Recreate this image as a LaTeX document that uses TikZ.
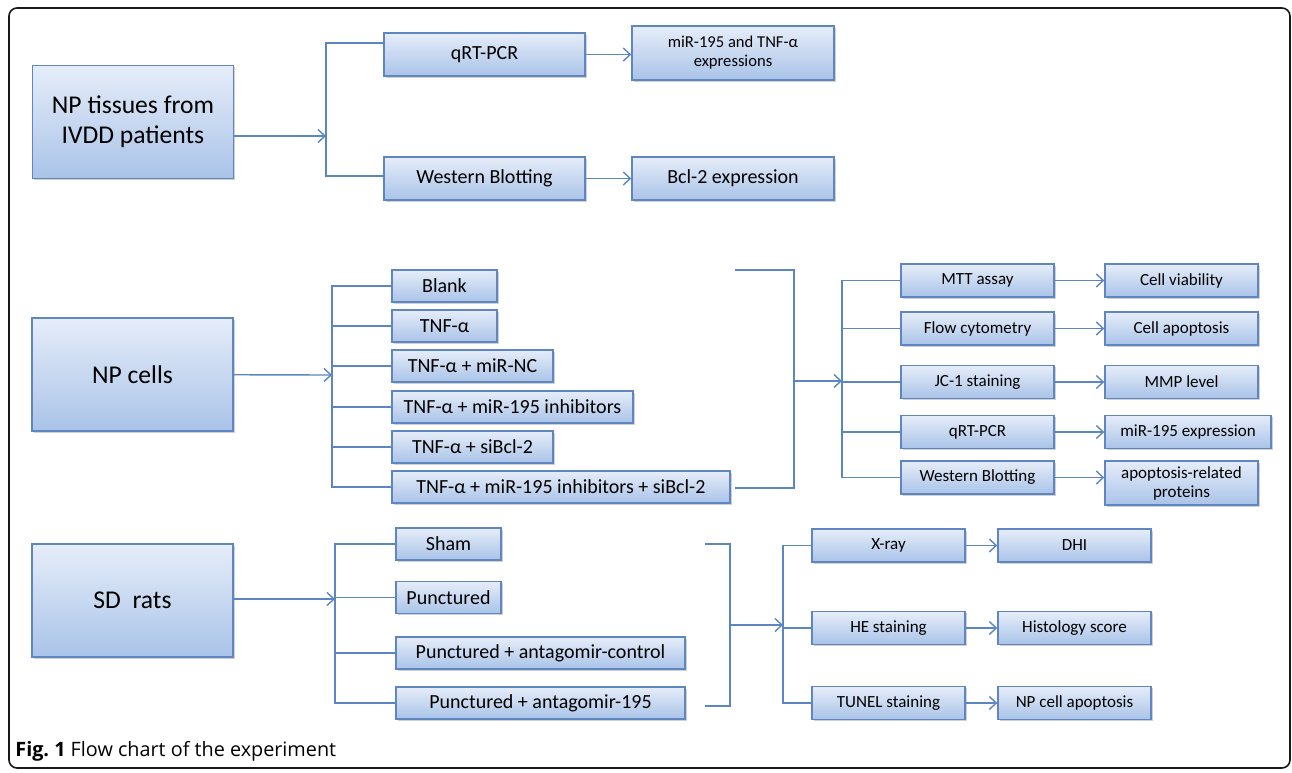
\documentclass[tikz,border=0pt]{standalone}
\usepackage{fontspec}
\setmainfont{Carlito}
\newfontfamily\capfont{Open Sans}
\usetikzlibrary{arrows.meta,shadows}
\definecolor{boxtop}{HTML}{E6EDF9}
\definecolor{boxbot}{HTML}{A9C3E8}
\definecolor{boxline}{HTML}{5F86C0}
\definecolor{linkcol}{HTML}{5B85C3}
\begin{document}
\begin{tikzpicture}[x=0.5pt,y=-0.5pt,
  box/.style={draw=boxline,line width=.7pt,top color=boxtop,bottom color=boxbot,inner sep=1pt,align=center,
    drop shadow={shadow xshift=.8pt,shadow yshift=-.9pt,opacity=.3,fill=black!60}},
  big/.style={box,minimum width=100.5pt,minimum height=56.5pt,font=\fontsize{12.8}{15}\selectfont},
  mid/.style={box,minimum height=21.5pt,font=\fontsize{10}{11.5}\selectfont},
  grp/.style={box,minimum height=16pt,font=\fontsize{10}{11.5}\selectfont},
  sml/.style={box,minimum height=16.5pt,font=\fontsize{8.5}{10}\selectfont},
  link/.style={draw=linkcol,line width=.7pt},
  arr/.style={link,-{Straight Barb[length=3.5pt,width=6.5pt]}}]
\useasboundingbox (0,0) rectangle (1292,772);
\draw[line width=.8pt,black!90,rounded corners=4pt] (9,8) rectangle (1290,768);

% tissues
\node[big] (tis) at (133,122) {NP tissues from\\IVDD patients};
\node[mid,minimum width=100.5pt] (qrta) at (484.5,54.5) {qRT-PCR};
\node[mid,minimum width=100.5pt] (wba) at (484.5,178.5) {Western Blotting};
\node[mid,minimum width=101pt,minimum height=27pt,font=\fontsize{8.3}{9.5}\selectfont] (mira) at (733,53) {miR-195 and TNF-α\\expressions};
\node[mid,minimum width=101pt] (bcl) at (733,178.5) {Bcl-2 expression};
\coordinate (ja) at (326,136);
\draw[arr] (tis.east |- ja) -- (ja);
\draw[link] (qrta.west |- 0,43) -| (ja) |- (wba.west |- 0,176);
\draw[arr] (qrta) -- (mira.west |- qrta);
\draw[arr] (wba) -- (bcl);

% cells
\node[big] (cells) at (132.5,374.5) {NP cells};
\node[grp,minimum width=52.5pt] (blank) at (444.5,286) {Blank};
\node[grp,minimum width=52.5pt] (tnf) at (444.5,326) {TNF-α};
\node[grp,minimum width=80.5pt] (nc) at (472.5,366) {TNF-α + miR-NC};
\node[grp,minimum width=120.5pt] (inh) at (512.5,407) {TNF-α + miR-195 inhibitors};
\node[grp,minimum width=80.5pt] (si) at (472.5,447) {TNF-α + siBcl-2};
\node[grp,minimum width=169pt] (all) at (561,487) {TNF-α + miR-195 inhibitors + siBcl-2};
\coordinate (jb) at (332,375);
\draw[arr] (cells) -- (jb);
\draw[link] (blank) -| (jb) |- (all);
\foreach \g in {tnf,nc,inh,si} \draw[link] (\g.west) -- (\g.west -| jb);
\coordinate (topb) at (735,270);
\coordinate (botb) at (735,488);
\coordinate (sb) at (794,381);
\coordinate (kb) at (842,381);
\draw[link] (topb) -| (sb) |- (botb);
\draw[arr] (sb) -- (kb);
\node[sml,minimum width=76.5pt] (mtt) at (977.5,280.5) {MTT assay};
\node[sml,minimum width=76.5pt] (flow) at (977.5,328.5) {Flow cytometry};
\node[sml,minimum width=76.5pt] (jc) at (977.5,382) {JC-1 staining};
\node[sml,minimum width=76.5pt] (qrtb) at (977.5,432) {qRT-PCR};
\node[sml,minimum width=76.5pt] (wbb) at (977.5,477.5) {Western Blotting};
\node[sml,minimum width=76.5pt] (via) at (1181.5,280.5) {Cell viability};
\node[sml,minimum width=76.5pt] (capo) at (1181.5,328.5) {Cell apoptosis};
\node[sml,minimum width=76.5pt] (mmp) at (1181.5,382) {MMP level};
\node[sml,minimum width=83pt] (mirb) at (1188,432) {miR-195 expression};
\node[sml,minimum width=76.5pt,minimum height=22pt,font=\fontsize{8.5}{9.5}\selectfont] (prot) at (1181.5,483) {apoptosis-related\\proteins};
\draw[link] (mtt) -| (kb) |- (wbb);
\foreach \a in {flow,jc,qrtb} \draw[link] (\a.west) -- (\a.west -| kb);
\foreach \a/\r in {mtt/via,flow/capo,jc/mmp,qrtb/mirb,wbb/prot} \draw[arr] (\a) -- (\r.west |- \a);

% rats
\node[big] (rats) at (132.5,600.5) {SD\ \ rats};
\node[grp,minimum width=52.5pt] (sham) at (448.5,544) {Sham};
\node[grp,minimum width=52.5pt] (punc) at (448.5,597.5) {Punctured};
\node[grp,minimum width=144.5pt] (ctrl) at (540.5,653) {Punctured + antagomir-control};
\node[grp,minimum width=144.5pt] (ant) at (540.5,703) {Punctured + antagomir-195};
\coordinate (jc3) at (335,599);
\draw[arr] (rats.east |- jc3) -- (jc3);
\draw[link] (sham) -| (jc3) |- (ant);
\foreach \g in {punc,ctrl} \draw[link] (\g.west) -- (\g.west -| jc3);
\coordinate (topc) at (705,544);
\coordinate (botc) at (705,706);
\coordinate (sc) at (730,625);
\coordinate (kc) at (783,625);
\draw[link] (topc) -| (sc) |- (botc);
\draw[arr] (sc) -- (kc);
\node[sml,minimum width=76.5pt] (xray) at (888.5,545.5) {X-ray};
\node[sml,minimum width=76.5pt] (he) at (888.5,628) {HE staining};
\node[sml,minimum width=76.5pt] (tunel) at (888.5,703) {TUNEL staining};
\node[sml,minimum width=76.5pt] (dhi) at (1074.5,545.5) {DHI};
\node[sml,minimum width=76.5pt] (hist) at (1074.5,628) {Histology score};
\node[sml,minimum width=76.5pt] (npa) at (1074.5,703) {NP cell apoptosis};
\draw[link] (xray) -| (kc) |- (tunel);
\draw[link] (he.west) -- (he.west -| kc);
\foreach \a/\r in {xray/dhi,he/hist,tunel/npa} \draw[arr] (\a) -- (\r);

\node[anchor=west,inner sep=0,font=\capfont\fontsize{9.9}{11}\selectfont] (cap) at (15,751) {\textbf{Fig.~1} Flow chart of the experiment};
\end{tikzpicture}
\end{document}
